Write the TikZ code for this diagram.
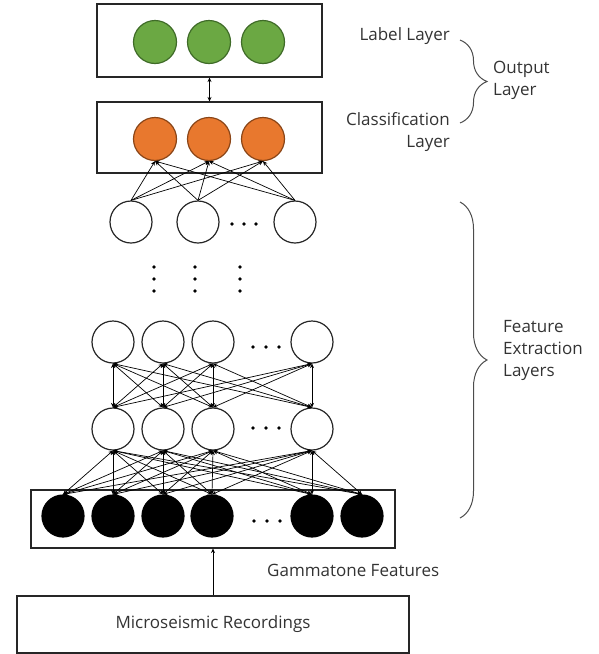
\documentclass[tikz,border=0pt]{standalone}
\usepackage{fontspec}
\setmainfont{Open Sans}
\usetikzlibrary{arrows.meta,decorations.pathreplacing}
\definecolor{gfill}{HTML}{6BA843}
\definecolor{gdraw}{HTML}{3F6B28}
\definecolor{ofill}{HTML}{E8782E}
\definecolor{odraw}{HTML}{8A4517}
\begin{document}
\begin{tikzpicture}[x=1pt,y=-1pt,
  unit/.style={circle, draw=black!85, line width=1.2pt, minimum size=42pt, inner sep=0pt},
  wunit/.style={unit, fill=white},
  gunit/.style={unit, fill=gfill, draw=gdraw, minimum size=43pt},
  ounit/.style={unit, fill=ofill, draw=odraw, minimum size=43pt},
  bunit/.style={unit, fill=black, draw=black},
  layerbox/.style={draw=black!85, line width=1.1pt, inner sep=0pt},
  conn/.style={{Stealth[length=4.5pt,width=4pt]}-{Stealth[length=4.5pt,width=4pt]}, line width=0.7pt},
  upconn/.style={-{Stealth[length=4.5pt,width=4pt]}, line width=0.7pt},
  lbl/.style={font=\fontsize{17}{22}\selectfont, text=black!80, inner sep=0pt},
  dotty/.style={fill=black},
  brc/.style={decorate, decoration={brace, amplitude=27pt}, line width=1pt, draw=black!70}
]
\useasboundingbox (0,0) rectangle (599,654);
% boxes
\node[layerbox, minimum width=225pt, minimum height=73pt] (topbox) at (209.5,40.5) {};
\node[layerbox, minimum width=225pt, minimum height=71pt] (clsbox) at (209.5,137.5) {};
\node[layerbox, minimum width=364pt, minimum height=58pt] (inbox) at (213,519) {};
\node[layerbox, minimum width=392pt, minimum height=57pt, lbl] (micro) at (213,624.5) {Microseismic Recordings};
% output layer units
\foreach \i/\x in {1/155,2/209,3/263} {
  \node[gunit] (g\i) at (\x,42) {};
  \node[ounit] (o\i) at (\x,139) {};
}
% top hidden row
\foreach \i/\x in {1/131,2/198,3/295} \node[wunit] (t\i) at (\x,222) {};
% middle hidden rows
\foreach \i/\x in {1/113,2/163,3/213,4/312} {
  \node[wunit] (u\i) at (\x,342) {};
  \node[wunit] (l\i) at (\x,429) {};
}
% input units
\foreach \i/\x in {1/63,2/113,3/163,4/212,5/312,6/362} \node[bunit] (b\i) at (\x,516) {};
% connections
\draw[conn] (topbox.south) -- (clsbox.north);
\foreach \i in {1,2,3} \foreach \j in {1,2,3} \draw[upconn] (t\i.north) -- (o\j.south);
\foreach \i in {1,2,3,4} \foreach \j in {1,2,3,4} \draw[conn] (l\i.north) -- (u\j.south);
\foreach \i in {1,...,6} \foreach \j in {1,2,3,4} \draw[conn] (b\i.north) -- (l\j.south);
\draw[upconn] (micro.north) -- (inbox.south);
% dots
\foreach \x in {232,244,256} \fill[dotty] (\x,224) circle (1.9);
\foreach \y in {347,428} \foreach \x in {253,266,279} \fill[dotty] (\x,\y) circle (1.9);
\foreach \x in {254,267,280} \fill[dotty] (\x,521) circle (1.9);
\foreach \x in {154,195,240} \foreach \y in {267,279,291} \fill[dotty] (\x,\y) circle (1.9);
% labels
\node[lbl, anchor=east] (lablbl) at (450,36) {Label Layer};
\node[lbl, anchor=east, align=right] (clslbl) at (450,132) {Classification\\Layer};
\node[lbl, anchor=west, align=left] (outlbl) at (493,80) {Output\\Layer};
\node[lbl, anchor=west, align=left] (featlbl) at (503,350) {Feature\\Extraction\\Layers};
\node[lbl, anchor=west] (gamlbl) at (267,570) {Gammatone Features};
% braces
\coordinate (b1s) at (460,40);
\coordinate (b1e) at (460,123);
\coordinate (b2s) at (460,202);
\coordinate (b2e) at (460,518);
\draw[brc] (b1s) -- (b1e);
\draw[brc] (b2s) -- (b2e);
\end{tikzpicture}
\end{document}
